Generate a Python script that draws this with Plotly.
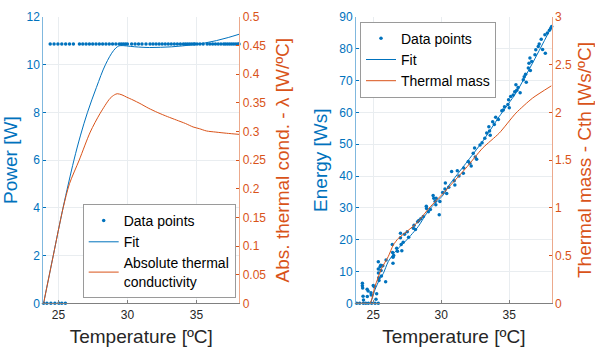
import plotly.graph_objects as go

BLUE = "#0072BD"
ORANGE = "#D95319"
DARK = "#262626"
GRID = "#e9edf0"
FONT = "Liberation Sans, Arial, sans-serif"

# ---------------- Left panel: power / thermal conductivity ----------------
power_T = [
    23.92, 24.16, 24.45, 24.74, 25.03, 25.24, 25.50,
    24.40, 24.68, 24.96, 25.24, 25.52, 25.80, 26.08,
    26.52, 26.76, 27.00, 27.24, 27.48, 27.72, 27.96, 28.20, 28.44, 28.68,
    28.92, 29.16, 29.40, 29.55, 29.70, 29.85, 29.99,
    30.30, 30.55, 30.80, 31.05, 31.34,
    31.63, 31.85, 32.07, 32.29, 32.51, 32.73, 32.95, 33.17, 33.39, 33.61,
    33.83, 34.05, 34.20, 34.35, 34.50, 34.65, 34.80, 34.88,
    35.04, 35.25, 35.48,
    35.77, 35.97, 36.17, 36.37, 36.57, 36.77, 36.97, 37.10, 37.25, 37.40,
    37.55, 37.70, 37.85, 38.00, 38.08,
]
power_W = [
    0, 0, 0, 0, 0, 0, 0,
    10.87, 10.87, 10.87, 10.87, 10.87, 10.87, 10.87,
    10.87, 10.87, 10.87, 10.87, 10.87, 10.87, 10.87, 10.87, 10.87, 10.87,
    10.87, 10.87, 10.87, 10.87, 10.87, 10.87, 10.87,
    10.87, 10.87, 10.87, 10.87, 10.87,
    10.87, 10.87, 10.87, 10.87, 10.87, 10.87, 10.87, 10.87, 10.87, 10.87,
    10.87, 10.87, 10.87, 10.87, 10.87, 10.87, 10.87, 10.87,
    10.87, 10.87, 10.87,
    10.87, 10.87, 10.87, 10.87, 10.87, 10.87, 10.87, 10.87, 10.87, 10.87,
    10.87, 10.87, 10.87, 10.87, 10.87,
]

fit_power_T = [23.92, 24.62, 25.33, 26.12, 26.60, 27.10, 27.75, 28.40, 29.00,
               29.35, 29.70, 30.20, 30.80, 31.60, 32.40, 33.20, 34.00, 34.75,
               35.60, 36.44, 37.30, 38.10]
fit_power_W = [0.00, 2.00, 4.00, 6.00, 7.05, 8.00, 9.05, 10.00, 10.60,
               10.78, 10.80, 10.77, 10.74, 10.72, 10.73, 10.75, 10.79, 10.84,
               10.91, 11.01, 11.14, 11.28]

cond_T = [23.92, 24.62, 25.33, 25.80, 26.50, 27.30, 28.00, 28.74, 29.05,
          29.26, 29.60, 29.94, 30.40, 30.90, 31.50, 32.20, 32.90, 33.55,
          34.20, 34.75, 35.20, 35.72, 36.40, 37.17, 38.10]
cond_lambda = [0.000, 0.083, 0.166, 0.209, 0.250, 0.299, 0.331, 0.358, 0.364,
               0.366, 0.364, 0.360, 0.355, 0.349, 0.341, 0.333, 0.326, 0.320,
               0.314, 0.308, 0.305, 0.301, 0.299, 0.297, 0.295]

# ---------------- Right panel: energy / thermal mass ----------------
energy_T = [
    23.78, 24.00, 24.27, 24.45, 24.64, 24.88, 25.13, 25.37,
    24.20, 24.20, 24.22, 24.25, 24.28, 24.55, 24.56, 24.62, 24.83, 24.85,
    25.00, 25.07, 25.20, 25.25,
    25.37, 25.37, 25.38, 25.40, 25.42, 25.50, 25.55, 25.57, 25.60, 25.70,
    25.91, 25.94, 26.40, 26.42, 26.45, 26.45, 26.50, 26.72, 26.78, 27.00,
    27.00, 27.05, 27.10, 27.20, 27.30, 27.50, 27.60, 27.95, 28.00, 28.10,
    28.26, 28.35, 28.50, 28.68, 28.90, 28.92, 29.05, 29.20, 29.40, 29.45,
    29.55, 29.60, 29.62, 29.85, 29.90, 30.10, 30.27, 30.30, 30.40, 30.55,
    30.76, 30.95, 31.00, 31.18, 31.30, 31.62, 31.65, 31.99, 32.10, 32.20,
    32.35, 32.45, 32.50, 32.60, 32.85, 33.00, 33.20, 33.34, 33.50, 33.55,
    33.60, 33.78, 33.90, 34.00, 34.20, 34.45, 34.56, 34.65, 34.90, 34.95,
    35.00, 35.10, 35.29, 35.40, 35.49, 35.55, 35.65, 35.80, 36.03, 36.10,
    36.20, 36.25, 36.40, 36.45, 36.52, 36.55, 36.65, 36.89, 36.95, 37.13,
    37.20, 37.35, 37.45, 37.62, 37.65, 37.80, 37.95, 38.05, 38.12,
]
energy_Ws = [
    0.0, 0.0, 0.0, 0.0, 0.0, 0.0, 0.0, 0.0,
    6.3, 5.5, 4.8, 2.2, 1.0, 4.4, 2.1, 3.9, 3.3, 2.6,
    5.6, 5.2, 1.3, 3.0,
    13.1, 10.8, 9.5, 8.0, 7.2, 11.5, 12.0, 10.3, 8.6, 11.8,
    6.8, 13.6, 18.5, 16.0, 14.5, 12.6, 15.0, 17.3, 16.4, 22.0,
    20.6, 18.5, 16.5, 19.2, 21.7, 22.5, 20.8, 23.6, 24.5, 23.2,
    25.6, 26.0, 26.6, 27.3, 30.5, 29.8, 28.8, 29.5, 33.9, 33.0,
    32.1, 31.0, 33.0, 27.8, 32.0, 34.8, 35.9, 37.8, 34.5, 36.5,
    41.4, 38.5, 37.2, 41.7, 40.0, 40.9, 42.5, 44.6, 44.0, 43.2,
    47.2, 48.8, 46.0, 45.3, 49.8, 50.5, 51.9, 53.5, 55.5, 54.2,
    52.8, 57.1, 56.2, 58.5, 57.8, 60.5, 60.8, 61.8, 62.5, 64.0,
    61.5, 65.0, 65.5, 66.5, 68.7, 67.0, 67.8, 66.2, 70.3, 71.2,
    72.0, 69.5, 74.0, 75.5, 77.1, 73.2, 76.0, 78.1, 79.7, 80.7,
    81.5, 83.0, 79.8, 84.4, 78.6, 85.0, 85.8, 86.5, 87.0,
]

fit_energy_T = [23.73, 24.40, 24.76, 25.12, 25.44, 25.74, 26.10, 26.72, 27.45,
                28.30, 29.10, 30.15, 30.59, 31.81, 33.04, 34.26, 35.49, 36.71, 38.10]
fit_energy_Ws = [0.0, 0.0, 0.0, 4.2, 7.3, 9.4, 13.1, 16.8, 19.9,
                 24.1, 29.4, 34.1, 37.2, 44.0, 50.9, 58.7, 66.1, 75.5, 86.8]

mass_T = [23.73, 24.40, 24.76, 25.12, 25.62, 26.10, 26.47, 26.84, 27.45,
          28.30, 29.10, 30.15, 30.59, 31.81, 33.04, 34.26, 35.49, 36.71, 38.10]
mass_Cth = [0.0, 0.0, 0.0, 0.174, 0.367, 0.489, 0.610, 0.680, 0.750,
            0.856, 0.997, 1.154, 1.223, 1.416, 1.626, 1.783, 1.993, 2.150, 2.279]

# axis ticks
temp_ticks = [25, 30, 35]
power_ticks = [0, 2, 4, 6, 8, 10, 12]
cond_ticks = [0, 0.05, 0.1, 0.15, 0.2, 0.25, 0.3, 0.35, 0.4, 0.45, 0.5]
cond_labels = ["0", "0.05", "0.1", "0.15", "0.2", "0.25", "0.3", "0.35", "0.4", "0.45", "0.5"]
energy_ticks = [0, 10, 20, 30, 40, 50, 60, 70, 80, 90]
mass_ticks = [0, 0.5, 1, 1.5, 2, 2.5, 3]
mass_labels = ["0", "0.5", "1", "1.5", "2", "2.5", "3"]

fig = go.Figure()

fig.add_trace(go.Scatter(x=power_T, y=power_W, mode="markers", name="Data points",
                         marker=dict(color=BLUE, size=3.5), cliponaxis=False,
                         xaxis="x", yaxis="y", legend="legend"))
fig.add_trace(go.Scatter(x=fit_power_T, y=fit_power_W, mode="lines", name="Fit",
                         line=dict(color=BLUE, width=1, shape="spline", smoothing=1),
                         xaxis="x", yaxis="y", legend="legend"))
fig.add_trace(go.Scatter(x=cond_T, y=cond_lambda, mode="lines",
                         name="Absolute thermal<br>conductivity",
                         line=dict(color=ORANGE, width=1, shape="spline", smoothing=0.8),
                         xaxis="x", yaxis="y2", legend="legend"))

fig.add_trace(go.Scatter(x=energy_T, y=energy_Ws, mode="markers", name="Data points",
                         marker=dict(color=BLUE, size=3.5), cliponaxis=False,
                         xaxis="x2", yaxis="y3", legend="legend2"))
fig.add_trace(go.Scatter(x=fit_energy_T, y=fit_energy_Ws, mode="lines", name="Fit",
                         line=dict(color=BLUE, width=1, shape="spline", smoothing=0.6),
                         xaxis="x2", yaxis="y3", legend="legend2"))
fig.add_trace(go.Scatter(x=mass_T, y=mass_Cth, mode="lines", name="Thermal mass",
                         line=dict(color=ORANGE, width=1, shape="spline", smoothing=0.6),
                         xaxis="x2", yaxis="y4", legend="legend2"))

W, H = 595, 347
ydom = [(H - 303.3) / H, (H - 17.0) / H]

tickfont = dict(family=FONT, size=12)
titlefont = dict(family=FONT, size=19)


def xax(domain, anchor, rng):
    return dict(domain=domain, anchor=anchor, range=rng, tickvals=temp_ticks,
                ticks="inside", ticklen=3, tickcolor="#808080", showline=True,
                linecolor="#808080", linewidth=1, showgrid=True, gridcolor=GRID,
                zeroline=False, tickfont=dict(color=DARK, **tickfont),
                title=dict(text="Temperature [ºC]", font=dict(color=DARK, **titlefont),
                           standoff=11),
                automargin=False, fixedrange=True)


def yleft(domain, anchor, rng, vals, title, standoff):
    return dict(domain=domain, anchor=anchor, range=rng, tickvals=vals,
                ticks="inside", ticklen=3, tickcolor=BLUE, showline=True,
                linecolor="#80b8de", linewidth=1, showgrid=True, gridcolor=GRID,
                zeroline=False, tickfont=dict(color=BLUE, **tickfont),
                title=dict(text=title, font=dict(color=BLUE, **titlefont), standoff=standoff),
                automargin=False, fixedrange=True)


def yright(overlay, anchor, rng, vals, labels, title, standoff):
    return dict(overlaying=overlay, anchor=anchor, side="right", range=rng,
                tickvals=vals, ticktext=labels, ticks="inside", ticklen=3,
                tickcolor=ORANGE, showline=True, linecolor="#eca98c", linewidth=1,
                showgrid=False, zeroline=False, tickfont=dict(color=ORANGE, **tickfont),
                title=dict(text=title, font=dict(color=ORANGE, **titlefont), standoff=standoff),
                automargin=False, fixedrange=True)


legend_common = dict(font=dict(family=FONT, size=14, color="#000000"),
                     bgcolor="#ffffff", bordercolor="#9a9a9a", borderwidth=1,
                     itemwidth=30, tracegroupgap=0)

fig.update_layout(
    width=W, height=H, margin=dict(l=0, r=0, t=0, b=0),
    template="none", paper_bgcolor="#ffffff", plot_bgcolor="#ffffff",
    font=dict(family=FONT, color=DARK),
    xaxis=xax([43.3 / W, 239.3 / W], "y", [23.9, 38.1]),
    yaxis=yleft(ydom, "x", [0, 12], power_ticks, "Power [W]", 8),
    yaxis2=yright("y", "x", [0, 0.5], cond_ticks, cond_labels,
                  "Abs. thermal cond. - λ [W/ºC]", 10),
    xaxis2=xax([356.0 / W, 551.7 / W], "y3", [23.73, 38.12]),
    yaxis3=yleft(ydom, "x2", [0, 90], energy_ticks, "Energy [Ws]", 6),
    yaxis4=yright("y3", "x2", [0, 3], mass_ticks, mass_labels, "", 6),
    legend=dict(x=235.7 / W, y=(H - 298) / H, xanchor="right", yanchor="bottom",
                **legend_common),
    legend2=dict(x=360 / W, y=(H - 21.7) / H, xanchor="left", yanchor="top",
                 **legend_common),
    showlegend=True,
    annotations=[dict(text="Thermal mass - Cth [Ws/ºC]", textangle=-90,
                      xref="paper", yref="paper", x=584 / W, y=(H - 160) / H,
                      xanchor="center", yanchor="middle", showarrow=False,
                      borderpad=0, font=dict(color=ORANGE, **titlefont))],
)

fig.write_html("out.html")
